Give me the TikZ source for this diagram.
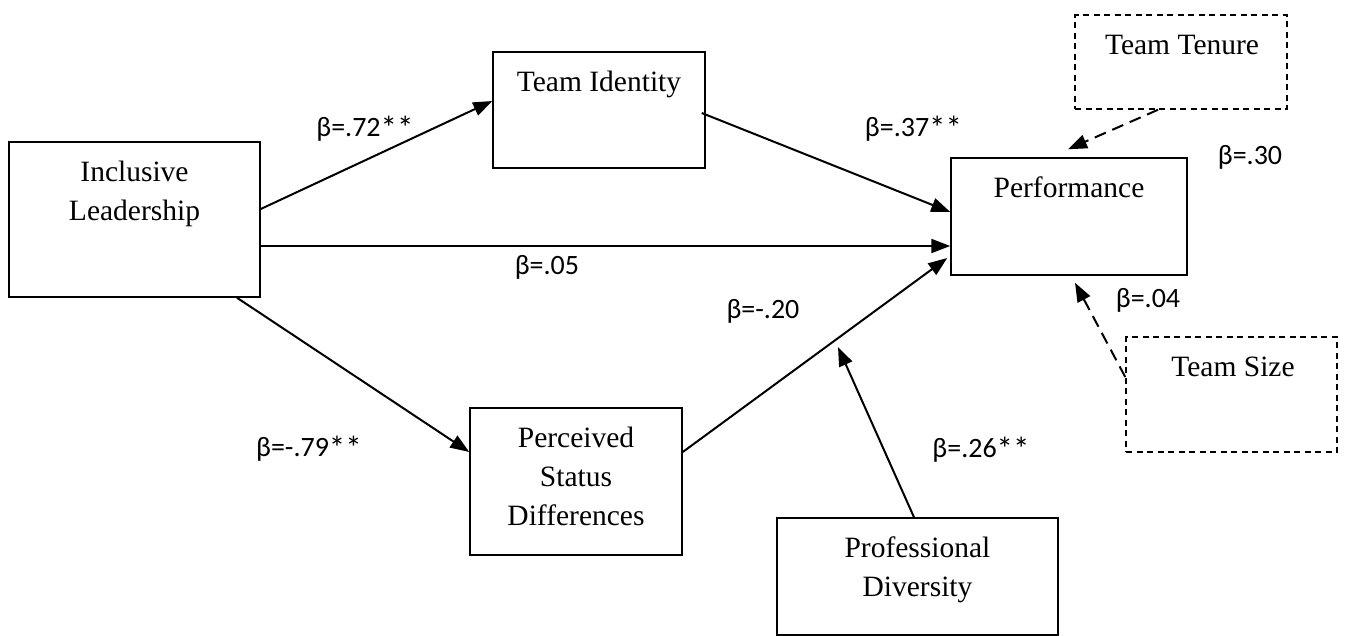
\documentclass[tikz,border=0pt]{standalone}
\usepackage{fontspec}
\setmainfont{Liberation Serif}
\newfontfamily\lblfont{Carlito}
\usetikzlibrary{arrows.meta,calc}
\newcommand{\stars}{{\fontsize{33}{33}\selectfont\raisebox{-3pt}{**}}}
\tikzset{
  box/.style={draw, line width=1.5pt, inner sep=0pt},
  dbox/.style={box, dash pattern=on 6pt off 4.5pt},
  boxtext/.style={anchor=north, inner sep=0pt, align=center, font=\fontsize{29.5}{39}\selectfont},
  lbl/.style={inner sep=0pt, font=\lblfont\fontsize{28}{30}\selectfont},
  arr/.style={line width=2pt, -{Triangle[length=19pt,width=14pt]}},
  darr/.style={arr, dash pattern=on 12pt off 7pt}
}
\begin{document}
\begin{tikzpicture}[x=1pt,y=-1pt]
\useasboundingbox (0,0) rectangle (1348,635);
% boxes
\node[box, minimum width=251pt, minimum height=155pt] (incl) at (134.5,219.5) {};
\node[box, minimum width=212pt, minimum height=116pt] (tid) at (599,110) {};
\node[box, minimum width=236pt, minimum height=117pt] (perf) at (1069,216.5) {};
\node[box, minimum width=212pt, minimum height=147pt] (psd) at (576,481.5) {};
\node[box, minimum width=281pt, minimum height=117pt] (prof) at (917.5,576.5) {};
\node[dbox, minimum width=212pt, minimum height=94pt] (tenure) at (1181,62) {};
\node[dbox, minimum width=211pt, minimum height=115pt] (size) at (1231.5,394.5) {};
% box texts
\node[boxtext] (inclt) at (134.5,161) {Inclusive\\Leadership};
\node[boxtext] (tidt) at (599,71) {Team Identity};
\node[boxtext] (perft) at (1069,177) {Performance};
\node[boxtext] (psdt) at (576,427) {Perceived\\Status\\Differences};
\node[boxtext] (proft) at (917.5,537) {Professional\\Diversity};
\node[boxtext] (tenuret) at (1182,35) {Team Tenure};
\node[boxtext] (sizet) at (1233,357) {Team Size};
% connectors
\coordinate (pm) at (838,347);
\draw[arr] (incl.east |- 0,209) -- (tid.west |- 0,101);
\draw[arr] ($(tid.east |- 0,113)+(-4,0)$) -- (perf.west |- 0,212);
\draw[arr] (incl.east |- 0,246) -- (perf.west |- 0,246);
\draw[arr] (incl.south -| 237,0) -- (psd.west |- 0,452);
\draw[arr] (psd.east |- 0,452) -- ($(perf.west |- 0,258)+(-3,0)$);
\draw[arr] (prof.north -| 914,0) -- (pm);
\draw[darr] (tenure.south -| 1158,0) -- ($(perf.north -| 1068,0)+(0,-8)$);
\draw[darr] (size.west |- 0,377) -- ($(perf.south -| 1075,0)+(0,7)$);
% labels
\node[lbl] (l1) at (365,129) {β=.72\stars};
\node[lbl] (l2) at (913.5,129) {β=.37\stars};
\node[lbl] (l3) at (1250,157) {β=.30};
\node[lbl] (l4) at (547,267) {β=.05};
\node[lbl] (l5) at (763,311) {β=-.20};
\node[lbl] (l6) at (1148,300) {β=.04};
\node[lbl] (l7) at (309,449) {β=-.79\stars};
\node[lbl] (l8) at (981,450) {β=.26\stars};
\end{tikzpicture}
\end{document}
